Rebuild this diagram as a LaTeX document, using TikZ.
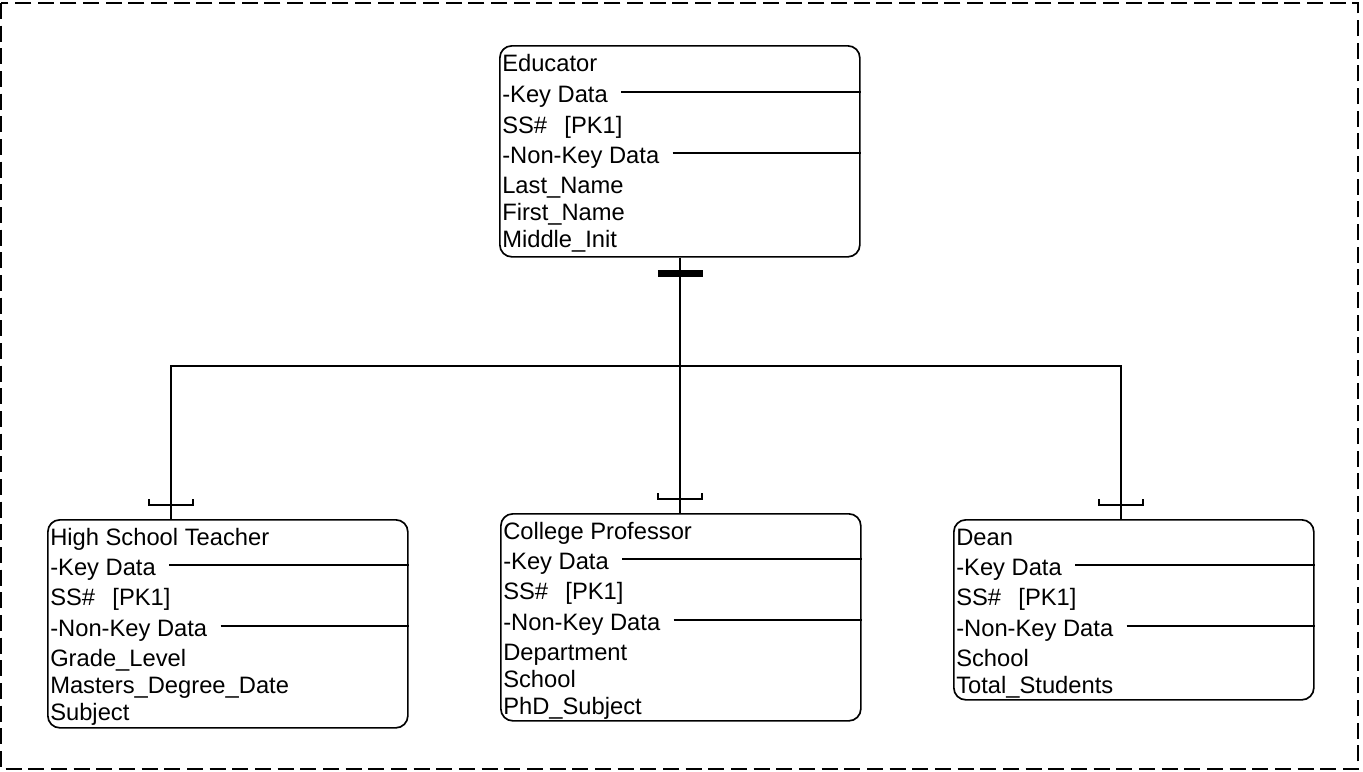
\documentclass[tikz,border=0pt]{standalone}
\usepackage{fontspec}
\setmainfont{Liberation Sans}
\usetikzlibrary{calc}

\tikzset{
  entity/.style={draw, rounded corners=9pt, line width=1.25pt, minimum width=270pt, inner sep=0pt, anchor=north west},
  attr/.style={anchor=base west, inner sep=0pt, font=\fontsize{17.8}{21}\selectfont},
  link/.style={line width=1.25pt},
}

\begin{document}
\begin{tikzpicture}[x=0.75pt,y=-0.75pt]
\useasboundingbox (0,0) rectangle (1363,771);

%Shape: Rectangle (frame)
\draw [dash pattern=on 12pt off 5pt, line width=1.2pt] (1,3) rectangle (1358,769);

%Rounded Rect: entities
\node[entity, minimum height=158.25pt] (edu) at (499,45) {};
\node[entity, minimum height=156pt] (teach) at (47,519) {};
\node[entity, minimum height=155.25pt] (prof) at (500,513) {};
\node[entity, minimum height=135pt] (dean) at (953,519) {};

%Text: attributes
\foreach \y/\t [count=\i] in {26/Educator, 57/-Key Data, 88/SS\#\hspace{13pt}[PK1], 118/-Non-Key Data, 148/Last\_Name, 175/First\_Name, 202/Middle\_Init}
  \node[attr] (edu-\i) at ($(edu.north west)+(3,\y)$) {\t};
\foreach \y/\t [count=\i] in {26/High School Teacher, 56/-Key Data, 86/SS\#\hspace{13pt}[PK1], 117/-Non-Key Data, 147/Grade\_Level, 174/Masters\_Degree\_Date, 201/Subject}
  \node[attr] (teach-\i) at ($(teach.north west)+(3,\y)$) {\t};
\foreach \y/\t [count=\i] in {26/College Professor, 56/-Key Data, 86/SS\#\hspace{13pt}[PK1], 117/-Non-Key Data, 147/Department, 174/School, 201/PhD\_Subject}
  \node[attr] (prof-\i) at ($(prof.north west)+(3,\y)$) {\t};
\foreach \y/\t [count=\i] in {26/Dean, 56/-Key Data, 86/SS\#\hspace{13pt}[PK1], 117/-Non-Key Data, 147/School, 174/Total\_Students}
  \node[attr] (dean-\i) at ($(dean.north west)+(3,\y)$) {\t};

%Straight Lines: compartment rules
\foreach \b/\n in {edu/2, edu/4, teach/2, teach/4, prof/2, prof/4, dean/2, dean/4} {
  \coordinate (s) at ($(\b-\n.base east)+(13,-10)$);
  \draw[link] (s) -- (s -| \b.east);
}

%Straight Lines: subtype connectors
\coordinate (bus) at (680,366);
\coordinate (teach-in) at ($(teach.north west)+(124,0)$);
\coordinate (prof-in) at (edu.south |- prof.north);
\coordinate (dean-in) at ($(dean.north west)+(168,0)$);
\draw[link] (edu.south) -- (prof-in);
\draw[link] (teach-in) |- (bus) -| (dean-in);
\draw[line width=5.5pt] ($(edu.south)+(-22,16)$) -- ($(edu.south)+(23,16)$);
\foreach \c in {teach-in, prof-in, dean-in}
  \draw[link] ($(\c)+(-22,-20)$) -- ++(0,6) -- ++(44,0) -- ++(0,-6);

\end{tikzpicture}
\end{document}
